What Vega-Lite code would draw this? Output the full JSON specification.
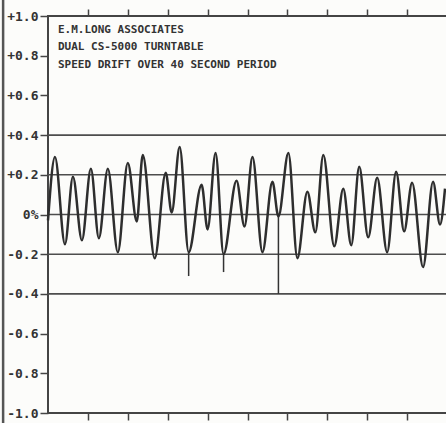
{
  "$schema": "https://vega.github.io/schema/vega-lite/v6.json",
  "width": 399,
  "height": 397,
  "autosize": {"type": "none"},
  "padding": {"left": 48, "top": 16, "right": 0, "bottom": 10},
  "background": "#fcfcfa",
  "config": {
    "view": {"stroke": "#444444", "strokeWidth": 2},
    "axis": {"domain": false, "grid": false, "tickColor": "#444444", "tickWidth": 1.5, "title": null}
  },
  "datasets": {
    "trace": [
      {"t": 0.0, "v": -0.03}, {"t": 0.7, "v": 0.29}, {"t": 1.7, "v": -0.15}, {"t": 2.5, "v": 0.19},
      {"t": 3.4, "v": -0.13}, {"t": 4.3, "v": 0.23}, {"t": 5.1, "v": -0.12}, {"t": 6.0, "v": 0.23},
      {"t": 7.0, "v": -0.19}, {"t": 8.0, "v": 0.26}, {"t": 8.9, "v": -0.035}, {"t": 9.5, "v": 0.30},
      {"t": 10.7, "v": -0.22}, {"t": 11.8, "v": 0.21}, {"t": 12.4, "v": 0.01}, {"t": 13.2, "v": 0.34},
      {"t": 14.1, "v": -0.19}, {"t": 15.4, "v": 0.15}, {"t": 16.0, "v": -0.075}, {"t": 16.8, "v": 0.31},
      {"t": 17.6, "v": -0.20}, {"t": 18.9, "v": 0.17}, {"t": 19.7, "v": -0.06}, {"t": 20.5, "v": 0.29},
      {"t": 21.5, "v": -0.19}, {"t": 22.5, "v": 0.165}, {"t": 23.1, "v": -0.01}, {"t": 24.1, "v": 0.31},
      {"t": 25.0, "v": -0.22}, {"t": 26.0, "v": 0.115}, {"t": 26.8, "v": -0.09}, {"t": 27.6, "v": 0.30},
      {"t": 28.7, "v": -0.16}, {"t": 29.6, "v": 0.13}, {"t": 30.4, "v": -0.155}, {"t": 31.2, "v": 0.24},
      {"t": 32.1, "v": -0.115}, {"t": 33.0, "v": 0.185}, {"t": 34.0, "v": -0.19}, {"t": 34.9, "v": 0.215},
      {"t": 35.7, "v": -0.085}, {"t": 36.5, "v": 0.16}, {"t": 37.6, "v": -0.265}, {"t": 38.6, "v": 0.165},
      {"t": 39.3, "v": -0.05}, {"t": 39.8, "v": 0.13}
    ],
    "spikes": [
      {"t": 14.1, "from": -0.19, "to": -0.31},
      {"t": 17.6, "from": -0.20, "to": -0.29},
      {"t": 23.1, "from": -0.01, "to": -0.40}
    ],
    "grid": [
      {"level": 0.4}, {"level": 0.2}, {"level": 0}, {"level": -0.2}, {"level": -0.4}
    ]
  },
  "resolve": {"axis": {"x": "independent", "y": "independent"}},
  "layer": [
    {
      "data": {"name": "grid"},
      "mark": {"type": "rule", "color": "#4d4d4d", "strokeWidth": 1.6},
      "encoding": {
        "y": {
          "field": "level", "type": "quantitative",
          "scale": {"domain": [-1, 1], "nice": false, "zero": false},
          "axis": {
            "orient": "left",
            "values": [-1, -0.8, -0.6, -0.4, -0.2, 0, 0.2, 0.4, 0.6, 0.8, 1],
            "labelExpr": "datum.value == 0 ? '0%' : (datum.value > 0 ? '+' : '-') + format(abs(datum.value), '.1f')",
            "labelOverlap": false,
            "tickSize": 8,
            "labelPadding": 2,
            "labelFont": "DejaVu Sans Mono",
            "labelFontSize": 13,
            "labelFontWeight": "bold",
            "labelColor": "#333333"
          }
        }
      }
    },
    {
      "data": {"name": "trace"},
      "mark": {"type": "line", "interpolate": "monotone", "color": "#2e2e2e", "strokeWidth": 2.5},
      "encoding": {
        "x": {
          "field": "t", "type": "quantitative",
          "scale": {"domain": [0, 40], "nice": false, "zero": false},
          "axis": {"orient": "bottom", "values": [4, 8, 12, 16, 20, 24, 28, 32, 36], "labels": false, "tickSize": 7}
        },
        "y": {"field": "v", "type": "quantitative", "axis": null}
      }
    },
    {
      "data": {"name": "spikes"},
      "mark": {"type": "rule", "color": "#333333", "strokeWidth": 1.5},
      "encoding": {
        "x": {
          "field": "t", "type": "quantitative",
          "axis": {"orient": "top", "values": [4, 8, 12, 16, 20, 24, 28, 32, 36], "labels": false, "tickSize": 7}
        },
        "y": {"field": "from", "type": "quantitative", "axis": null},
        "y2": {"field": "to"}
      }
    },
    {
      "data": {"values": [{}]},
      "mark": {"type": "rule", "color": "#555555", "strokeWidth": 2.5, "clip": false},
      "encoding": {
        "x": {"datum": -4.5, "type": "quantitative", "axis": null},
        "y": {"datum": -1.1, "type": "quantitative", "axis": null},
        "y2": {"datum": 1.1}
      }
    },
    {
      "data": {"values": [{}]},
      "mark": {
        "type": "text", "align": "left", "baseline": "top",
        "font": "DejaVu Sans Mono", "fontSize": 11, "fontWeight": "bold",
        "lineHeight": 17.5, "color": "#333333"
      },
      "encoding": {
        "x": {"datum": 1, "type": "quantitative", "axis": null},
        "y": {"datum": 0.96, "type": "quantitative", "axis": null},
        "text": {"value": ["E.M.LONG ASSOCIATES", "DUAL CS-5000 TURNTABLE", "SPEED DRIFT OVER 40 SECOND PERIOD"]}
      }
    }
  ]
}
